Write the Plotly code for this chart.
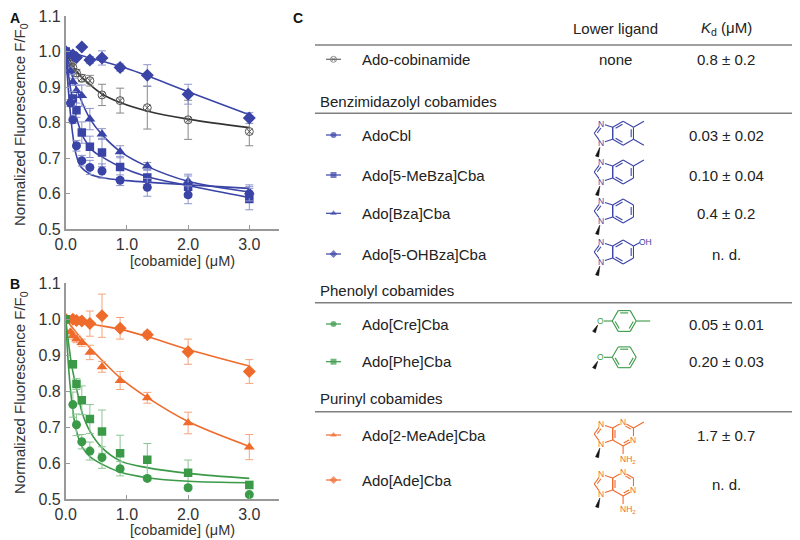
import numpy as np
import plotly.graph_objects as go

FONT = "Liberation Sans, Arial, sans-serif"
OFF = 8  # the page body has an 8 px margin, so everything is laid out 8 px up-left

# ---------------- data ----------------
conc = [0, 0.078, 0.117, 0.176, 0.263, 0.395, 0.593, 0.889, 1.333, 2.0, 3.0]
conc_s = [0, 0.117, 0.176, 0.263, 0.395, 0.593, 0.889, 1.333, 2.0, 3.0]

# panel A
cbi_y = [1.0, 0.965, 0.955, 0.94, 0.925, 0.918, 0.878, 0.862, 0.842, 0.808, 0.775]
cbi_err = [0, 0.005, 0.01, 0.01, 0.01, 0.015, 0.03, 0.035, 0.06, 0.055, 0.04]
cbl_y = [1.0, 0.855, 0.808, 0.735, 0.693, 0.674, 0.664, 0.638, 0.618, 0.597, 0.6]
cbl_err = [0, 0.01, 0.01, 0.015, 0.015, 0.02, 0.02, 0.015, 0.025, 0.025, 0.02]
mebza_y = [1.0, 0.868, 0.835, 0.772, 0.732, 0.716, 0.675, 0.646, 0.62, 0.585]
mebza_err = [0, 0.02, 0.02, 0.03, 0.03, 0.04, 0.03, 0.02, 0.03, 0.03]
bza_y = [1.0, 0.945, 0.915, 0.89, 0.876, 0.81, 0.768, 0.718, 0.678, 0.635, 0.605]
bza_err = [0, 0.01, 0.01, 0.015, 0.03, 0.03, 0.015, 0.017, 0.01, 0.02, 0.02]
ohbza_y = [1.0, 0.99, 0.983, 1.013, 0.976, 0.982, 0.955, 0.933, 0.88, 0.813]
ohbza_err = [0, 0.005, 0.005, 0, 0.01, 0.02, 0.01, 0.03, 0.028, 0.015]

# panel B
cre_y = [1.0, 0.763, 0.707, 0.66, 0.634, 0.616, 0.585, 0.558, 0.532, 0.513]
cre_err = [0, 0.035, 0.03, 0.02, 0.025, 0.03, 0.02, 0.005, 0.005, 0.005]
phe_y = [1.0, 0.875, 0.82, 0.775, 0.723, 0.688, 0.628, 0.61, 0.574, 0.54]
phe_err = [0, 0.01, 0.015, 0.04, 0.04, 0.06, 0.05, 0.045, 0.035, 0.01]
meade_y = [1.0, 0.965, 0.955, 0.945, 0.935, 0.908, 0.868, 0.83, 0.782, 0.712, 0.645]
meade_err = [0, 0.005, 0.01, 0.01, 0.01, 0.02, 0.015, 0.025, 0.015, 0.03, 0.035]
ade_y = [1.0, 1.0, 0.997, 0.995, 0.988, 1.01, 0.975, 0.957, 0.91, 0.855]
ade_err = [0, 0.01, 0.01, 0.005, 0.035, 0.06, 0.03, 0.01, 0.035, 0.033]

# fitted curves
fit_cbi_x = [0, 0.1, 0.2, 0.4, 0.6, 0.9, 1.33, 2, 3]
fit_cbi_y = [1.0, 0.965, 0.94, 0.906, 0.88, 0.856, 0.833, 0.81, 0.786]
fit_cbl_x = [0, 0.04, 0.08, 0.12, 0.17, 0.25, 0.4, 0.6, 1.0, 2.0, 3.0]
fit_cbl_y = [1.0, 0.9, 0.82, 0.76, 0.71, 0.675, 0.655, 0.645, 0.637, 0.625, 0.615]
fit_mebza_x = [0, 0.05, 0.1, 0.2, 0.3, 0.45, 0.6, 0.9, 1.33, 2, 3]
fit_mebza_y = [1.0, 0.93, 0.875, 0.8, 0.755, 0.72, 0.703, 0.675, 0.648, 0.623, 0.589]
fit_bza_x = [0, 0.1, 0.2, 0.4, 0.6, 0.9, 1.33, 2, 3]
fit_bza_y = [1.0, 0.935, 0.885, 0.81, 0.765, 0.718, 0.677, 0.635, 0.605]
fit_ohbza_x = [0, 1, 2, 3]
fit_ohbza_y = [1.0, 0.952, 0.887, 0.822]
fit_cre_x = [0, 0.05, 0.1, 0.15, 0.2, 0.27, 0.4, 0.6, 0.9, 1.33, 2, 3]
fit_cre_y = [1.0, 0.86, 0.77, 0.71, 0.675, 0.645, 0.618, 0.597, 0.575, 0.56, 0.55, 0.546]
fit_phe_x = [0, 0.05, 0.1, 0.2, 0.27, 0.4, 0.6, 0.9, 1.33, 2, 3]
fit_phe_y = [1.0, 0.93, 0.87, 0.79, 0.74, 0.688, 0.642, 0.606, 0.588, 0.572, 0.558]
fit_meade_x = [0, 0.2, 0.4, 0.6, 0.9, 1.33, 2, 3]
fit_meade_y = [1.0, 0.958, 0.92, 0.885, 0.836, 0.783, 0.716, 0.647]
fit_ade_x = [0, 0.4, 0.9, 1.33, 2, 3]
fit_ade_y = [1.0, 0.987, 0.972, 0.952, 0.916, 0.87]

# table
names = ["Ado-cobinamide", "AdoCbl", "Ado[5-MeBza]Cba", "Ado[Bza]Cba", "Ado[5-OHBza]Cba",
         "Ado[Cre]Cba", "Ado[Phe]Cba", "Ado[2-MeAde]Cba", "Ado[Ade]Cba"]
kd_text = ["0.8 ± 0.2", "0.03 ± 0.02", "0.10 ± 0.04", "0.4 ± 0.2", "n. d.",
           "0.05 ± 0.01", "0.20 ± 0.03", "1.7 ± 0.7", "n. d."]
groups = ["Benzimidazolyl cobamides", "Phenolyl cobamides", "Purinyl cobamides"]

BLUE, BLUE_E = "#3a44a6", "#8d95cc"
GREEN, GREEN_E = "#3b9a48", "#8cc594"
ORANGE, ORANGE_E = "#ef6b2c", "#f4a47c"
GREY = "#333333"

fig = go.Figure()


def series(x, y, err, col, ecol, sym, size, xa, ya, fx, fy, lcol=None, mline=None):
    fig.add_trace(go.Scatter(x=fx, y=fy, mode="lines", line=dict(color=lcol or col, width=1.6, shape="spline"),
                             xaxis=xa, yaxis=ya, showlegend=False))
    fig.add_trace(go.Scatter(x=x, y=y, mode="markers", xaxis=xa, yaxis=ya, showlegend=False,
                             error_y=dict(type="data", array=err, color=ecol, thickness=1, width=4),
                             marker=dict(symbol=sym, size=size, color=col, line=mline or dict(width=0))))


series(conc, cbi_y, cbi_err, "#555555", "#888888", "circle-x-open", 8, "x", "y", fit_cbi_x, fit_cbi_y,
       lcol=GREY, mline=dict(width=1, color="#555555"))
series(conc_s, ohbza_y, ohbza_err, BLUE, BLUE_E, "diamond", 10, "x", "y", fit_ohbza_x, fit_ohbza_y)
series(conc, bza_y, bza_err, BLUE, BLUE_E, "triangle-up", 9.5, "x", "y", fit_bza_x, fit_bza_y)
series(conc_s, mebza_y, mebza_err, BLUE, BLUE_E, "square", 8.5, "x", "y", fit_mebza_x, fit_mebza_y)
series(conc, cbl_y, cbl_err, BLUE, BLUE_E, "circle", 9, "x", "y", fit_cbl_x, fit_cbl_y)

series(conc_s, ade_y, ade_err, ORANGE, ORANGE_E, "diamond", 10, "x2", "y2", fit_ade_x, fit_ade_y)
series(conc, meade_y, meade_err, ORANGE, ORANGE_E, "triangle-up", 9.5, "x2", "y2", fit_meade_x, fit_meade_y)
series(conc_s, phe_y, phe_err, GREEN, GREEN_E, "square", 8.5, "x2", "y2", fit_phe_x, fit_phe_y)
series(conc_s, cre_y, cre_err, GREEN, GREEN_E, "circle", 9, "x2", "y2", fit_cre_x, fit_cre_y)

# ---------------- table (pixel overlay axes x3/y3, in page pixels) ----------------
ann = []


def txt(x, y, s, size=15, col="#222222", xanchor="center", bold=False, yanchor="middle"):
    ann.append(dict(x=x, y=y, xref="x3", yref="y3", text=f"<b>{s}</b>" if bold else s, showarrow=False,
                    xanchor=xanchor, yanchor=yanchor, font=dict(family=FONT, size=size, color=col)))


def hline(y):
    fig.add_trace(go.Scatter(x=[315, 808], y=[y, y], mode="lines", line=dict(color="#7f7f7f", width=1.5),
                             xaxis="x3", yaxis="y3", showlegend=False, hoverinfo="skip"))


txt(615, 28.5, "Lower ligand")
txt(726, 28.5, "<i>K</i><sub>d</sub> (μM)")
hline(45)
hline(113.3)
hline(302.7)
hline(411.7)
txt(318, 101.7, groups[0], xanchor="left")
txt(318, 290, groups[1], xanchor="left")
txt(318, 398.3, groups[2], xanchor="left")

row_y = [59.3, 135, 175, 213.3, 254, 324, 361.7, 435, 480]
kd_y = [59.3, 135, 175, 213.3, 254, 324, 361.7, 435, 484]
row_sym = ["circle-x-open", "circle", "square", "triangle-up", "diamond", "circle", "square", "triangle-up", "diamond"]
row_col = ["#666666", BLUE, BLUE, BLUE, BLUE, GREEN, GREEN, ORANGE, ORANGE]
for nm, kd, ry, ky, sy, cl in zip(names, kd_text, row_y, kd_y, row_sym, row_col):
    txt(360, ry, nm, xanchor="left")
    txt(726, ky, kd)
    fig.add_trace(go.Scatter(x=[326, 333.5, 341], y=[ry, ry, ry], mode="lines+markers", xaxis="x3", yaxis="y3",
                             showlegend=False, hoverinfo="skip", line=dict(color=cl, width=1.2),
                             marker=dict(symbol=sy, size=[0, 6, 0], color=cl,
                                         line=dict(width=1, color=cl) if sy.endswith("open") else dict(width=0))))
txt(615, 59.3, "none")

# ---------------- ligand structures ----------------
segs = {}


def bond(col, p, q, tp=0.0, tq=0.0):
    p, q = np.array(p, float), np.array(q, float)
    d = (q - p) / np.linalg.norm(q - p)
    a, b = p + d * tp, q - d * tq
    xs, ys = segs.setdefault(col, ([], []))
    xs += [a[0], b[0], None]
    ys += [a[1], b[1], None]


def inner(col, p, q, c, tp=0.0, tq=0.0):
    p, q, c = np.array(p, float), np.array(q, float), np.array(c, float)
    m = (p + q) / 2
    off = (c - m) / np.linalg.norm(c - m) * 2.3
    d = (q - p) / np.linalg.norm(q - p)
    bond(col, p + off + d * max(2.0, tp), q + off - d * max(2.0, tq))


def ring(col, pts, hetero, doubles, centre, T=3.8):
    n = len(pts)
    for i in range(n):
        j = (i + 1) % n
        tp = T if i in hetero else 0
        tq = T if j in hetero else 0
        bond(col, pts[i], pts[j], tp, tq)
        if i in doubles:
            inner(col, pts[i], pts[j], centre, tp, tq)
    for i in hetero:
        txt(pts[i][0], pts[i][1], "N", size=8.5, col=col)


def wedge(p, q, w=3.2):
    p, q = np.array(p, float), np.array(q, float)
    d = (q - p) / np.linalg.norm(q - p)
    nrm = np.array([-d[1], d[0]]) * w / 2
    a, b = q + nrm, q - nrm
    fig.add_trace(go.Scatter(x=[p[0], a[0], b[0], p[0]], y=[p[1], a[1], b[1], p[1]], fill="toself",
                             fillcolor="#111111", mode="lines", line=dict(color="#111111", width=0.6),
                             xaxis="x3", yaxis="y3", showlegend=False, hoverinfo="skip"))


def bicyclic(cy, col, purine=False, b=12.0, x0=612.7):
    c18, s18 = np.cos(np.radians(18)), np.sin(np.radians(18))
    tl, bl = (x0, cy - b / 2), (x0, cy + b / 2)
    n3 = (x0 - b * c18, cy - b / 2 - b * s18)
    n1 = (x0 - b * c18, cy + b / 2 + b * s18)
    c2 = (x0 - 1.539 * b, cy)
    ring(col, [tl, n3, c2, n1, bl], hetero=[1, 3], doubles=[1], centre=(x0 - 0.688 * b, cy))
    top, tr = (x0 + 0.866 * b, cy - b), (x0 + 1.732 * b, cy - b / 2)
    br, bot = (x0 + 1.732 * b, cy + b / 2), (x0 + 0.866 * b, cy + b)
    hexa = [tl, top, tr, br, bot, bl]
    if purine:
        ring(col, hexa, hetero=[1, 3], doubles=[1, 3, 5], centre=(x0 + 0.866 * b, cy))
    else:
        ring(col, hexa, hetero=[], doubles=[0, 2, 4], centre=(x0 + 0.866 * b, cy))
    wedge((n1[0] - 1.5, n1[1] + 4.5), (n1[0] - 4.2, n1[1] + 13.5))
    return dict(top=top, tr=tr, br=br, bot=bot)


def phenol(cy, col, methyl=False, b=12.0, cx=624.2):
    h = 0.866 * b
    pts = [(cx - b, cy), (cx - b / 2, cy - h), (cx + b / 2, cy - h), (cx + b, cy), (cx + b / 2, cy + h),
           (cx - b / 2, cy + h)]
    ring(col, pts, hetero=[], doubles=[1, 3, 5], centre=(cx, cy))
    ox = cx - b - 12
    bond(col, (ox, cy), pts[0], 3.8, 0)
    txt(ox, cy, "O", size=8.5, col=col)
    wedge((ox - 2.5, cy + 4), (ox - 6.2, cy + 11))
    if methyl:
        bond(col, pts[3], (cx + b + 14, cy))


v = bicyclic(133.3, BLUE)
bond(BLUE, v["tr"], (v["tr"][0] + 10.4, v["tr"][1] - 6))
bond(BLUE, v["br"], (v["br"][0] + 10.4, v["br"][1] + 6))
v = bicyclic(172, BLUE)
bond(BLUE, v["tr"], (v["tr"][0] + 10.4, v["tr"][1] - 6))
bicyclic(211, BLUE)
v = bicyclic(252, BLUE)
bond(BLUE, v["tr"], (v["tr"][0] + 6.5, v["tr"][1] - 3.5))
txt(v["tr"][0] + 12.5, v["tr"][1] - 4, "OH", size=8.5, col=BLUE)

phenol(321, GREEN, methyl=True)
phenol(357.3, GREEN)

for cy, me in [(434, True), (484, False)]:
    v = bicyclic(cy, ORANGE, purine=True)
    if me:
        bond(ORANGE, v["tr"], (v["tr"][0] + 10.4, v["tr"][1] - 6))
    bond(ORANGE, v["bot"], (v["bot"][0], v["bot"][1] + 8))
    txt(v["bot"][0] + 5, v["bot"][1] + 13, "NH<sub>2</sub>", size=8.5, col=ORANGE)

for col, (xs, ys) in segs.items():
    fig.add_trace(go.Scatter(x=xs, y=ys, mode="lines", line=dict(color=col, width=1.1), xaxis="x3", yaxis="y3",
                             showlegend=False, hoverinfo="skip"))

# ---------------- axis titles and panel letters ----------------
ytitle = "Normalized Fluorescence F/F<sub>0</sub>"
xtitle = "[cobamide] (μM)"
for yc in (125, 393):
    txt(20, yc, ytitle, size=15, col="#333333")
    ann[-1]["textangle"] = -90
txt(182, 261, xtitle, size=14.5, col="#333333")
txt(182, 530, xtitle, size=14.5, col="#333333")
txt(8, 8, "A", size=14, col="#111111", xanchor="left", yanchor="top", bold=True)
txt(8, 274, "B", size=14, col="#111111", xanchor="left", yanchor="top", bold=True)
txt(291, 8, "C", size=14, col="#111111", xanchor="left", yanchor="top", bold=True)

axis_common = dict(showgrid=False, zeroline=False, showline=True, linecolor="#999999", linewidth=1.5,
                   ticks="inside", ticklen=5, tickcolor="#999999", tickwidth=1.2, ticklabeloverflow="allow",
                   tickfont=dict(family=FONT, size=16, color="#333333"), tickformat=".1f")
W, H = 800, 540


def xd(a, b):
    return [(a - OFF) / W, (b - OFF) / W]


def yd(top, bottom):
    return [1 - (bottom - OFF) / H, 1 - (top - OFF) / H]


fig.update_layout(
    width=W, height=H, margin=dict(l=0, r=0, t=0, b=0, autoexpand=False),
    paper_bgcolor="white", plot_bgcolor="rgba(0,0,0,0)",
    font=dict(family=FONT),
    xaxis=dict(domain=xd(65.7, 279), range=[0, 3.485], tickvals=[0, 1, 2, 3], anchor="y", **axis_common),
    yaxis=dict(domain=yd(16, 229.3), range=[0.5, 1.1], dtick=0.1, anchor="x", **axis_common),
    xaxis2=dict(domain=xd(65.7, 279), range=[0, 3.485], tickvals=[0, 1, 2, 3], anchor="y2", **axis_common),
    yaxis2=dict(domain=yd(283.3, 499.3), range=[0.5, 1.1], dtick=0.1, anchor="x2", **axis_common),
    xaxis3=dict(domain=[0, 1], range=[OFF, W + OFF], visible=False, anchor="y3", fixedrange=True),
    yaxis3=dict(domain=[0, 1], range=[H + OFF, OFF], visible=False, anchor="x3", fixedrange=True),
    annotations=ann,
)

fig.write_html("out.html")
